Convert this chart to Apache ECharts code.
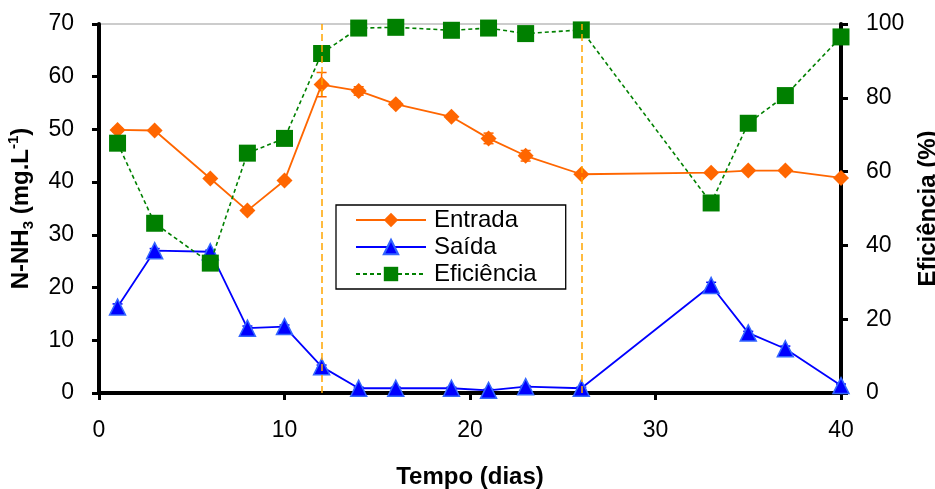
<!DOCTYPE html>
<html><head><meta charset="utf-8">
<script src="https://cdn.jsdelivr.net/npm/echarts@6/dist/echarts.min.js"></script>
<style>html,body{margin:0;padding:0;background:#fff}#c{width:935px;height:489px}</style>
</head><body><div id="c"></div>
<script>
const days = [1, 3, 6, 8, 10, 12, 14, 16, 19, 21, 23, 26, 33, 35, 37, 40];
const entrada = [49.9, 49.8, 40.7, 34.6, 40.3, 58.5, 57.3, 54.8, 52.4, 48.3, 45.0, 41.5, 41.8, 42.2, 42.2, 40.8];
const entradaErr = [0.4, 0.3, 0.3, 0.4, 0.4, 2.3, 0.8, 0.5, 0.4, 1.0, 1.0, 0.3, 0.4, 0.3, 0.4, 0.3];
const saida = [16.3, 27.0, 26.8, 12.3, 12.6, 5.0, 0.9, 0.9, 0.9, 0.5, 1.2, 0.9, 20.4, 11.4, 8.4, 1.4];
const saidaErr = [0.6, 0.4, 0.3, 0.4, 0.3, 0.3, 0.2, 0.2, 0.2, 0.2, 0.2, 0.2, 0.6, 0.3, 0.5, 0.3];
const eficiencia = [67.7, 46.0, 35.2, 65.0, 69.0, 92.0, 98.9, 99.1, 98.3, 98.9, 97.4, 98.4, 51.5, 73.1, 80.6, 96.5];
const phaseLines = [12, 26];
const leftTicks = {min: 0, max: 70, interval: 10};
const rightTicks = {min: 0, max: 100, interval: 20};
const xTicks = {min: 0, max: 40, interval: 10};

const chart = echarts.init(document.getElementById('c'));
const font = 'Liberation Sans, Arial, sans-serif';

function pairs(xs, ys) { return xs.map((x, i) => [x, ys[i]]); }
function errData(xs, ys, es) { return xs.map((x, i) => [x, ys[i] - es[i], ys[i] + es[i]]); }
function errSeries(data, color) {
  return {
    type: 'custom', yAxisIndex: 0, silent: true, z: 1,
    data: data,
    encode: {x: 0, y: [1, 2]},
    renderItem: function (params, api) {
      const lo = api.coord([api.value(0), api.value(1)]);
      const hi = api.coord([api.value(0), api.value(2)]);
      const w = 5;
      const st = {stroke: color, lineWidth: 1.5};
      return {type: 'group', children: [
        {type: 'line', shape: {x1: lo[0], y1: lo[1], x2: hi[0], y2: hi[1]}, style: st},
        {type: 'line', shape: {x1: lo[0] - w, y1: lo[1], x2: lo[0] + w, y2: lo[1]}, style: st},
        {type: 'line', shape: {x1: hi[0] - w, y1: hi[1], x2: hi[0] + w, y2: hi[1]}, style: st}
      ]};
    }
  };
}

chart.setOption({
  animation: false,
  textStyle: {fontFamily: font},
  grid: {left: 99, right: 94, top: 24, bottom: 96, show: true, borderColor: '#999', borderWidth: 1,
    containLabel: false, outerBoundsMode: 'none'},
  legend: {
    orient: 'vertical', left: 336, top: 205,
    data: ['Entrada', 'Saída', 'Eficiência'],
    itemWidth: 70, itemHeight: 18, itemGap: 3,
    padding: [3, 29, 3, 19],
    borderColor: '#000', borderWidth: 1.3, backgroundColor: '#fff',
    textStyle: {fontSize: 24, color: '#000', fontFamily: font, padding: [0, 0, 0, 3]}
  },
  xAxis: {
    type: 'value', min: xTicks.min, max: xTicks.max, interval: xTicks.interval,
    name: 'Tempo (dias)', nameLocation: 'middle', nameGap: 72,
    nameTextStyle: {fontSize: 24, fontWeight: 'bold', color: '#000'},
    axisLine: {lineStyle: {color: '#000', width: 4}},
    axisTick: {inside: false, length: 7, lineStyle: {width: 3, color: '#000'}},
    axisLabel: {fontSize: 23, color: '#000', margin: 26},
    splitLine: {show: false}
  },
  yAxis: [{
    type: 'value', min: leftTicks.min, max: leftTicks.max, interval: leftTicks.interval,
    name: 'N-NH{sub|3} (mg.L{sup|-1})', nameLocation: 'middle', nameGap: 63, nameRotate: 90,
    nameTextStyle: {fontSize: 24, fontWeight: 'bold', color: '#000', lineHeight: 30,
      rich: {
        sub: {fontSize: 15, fontWeight: 'bold', color: '#000', verticalAlign: 'bottom', lineHeight: 16, padding: [12, 0, 0, 0]},
        sup: {fontSize: 15, fontWeight: 'bold', color: '#000', verticalAlign: 'top', lineHeight: 16, padding: [0, 0, 12, 0]}
      }},
    axisLine: {show: true, lineStyle: {color: '#000', width: 4}},
    axisTick: {show: true, length: 7, lineStyle: {width: 3, color: '#000'}},
    axisLabel: {fontSize: 23, color: '#000', margin: 25},
    splitLine: {show: false}
  }, {
    type: 'value', min: rightTicks.min, max: rightTicks.max, interval: rightTicks.interval,
    position: 'right',
    name: 'Eficiência (%)', nameLocation: 'middle', nameGap: 75, nameRotate: 90,
    nameTextStyle: {fontSize: 24, fontWeight: 'bold', color: '#000'},
    axisLine: {show: true, lineStyle: {color: '#000', width: 4}},
    axisTick: {show: true, length: 7, lineStyle: {width: 3, color: '#000'}},
    axisLabel: {fontSize: 23, color: '#000', margin: 25},
    splitLine: {show: false}
  }],
  series: [
    errSeries(errData(days, entrada, entradaErr), '#FF6600'),
    errSeries(errData(days, saida, saidaErr), '#0000FF'),
    {
      name: 'Entrada', type: 'line', yAxisIndex: 0, z: 3,
      data: pairs(days, entrada),
      symbol: 'diamond', symbolSize: 16,
      lineStyle: {color: '#FF6600', width: 1.8},
      itemStyle: {color: '#FF6600'},
      markLine: {
        silent: true, symbol: 'none', label: {show: false},
        lineStyle: {color: '#FFA500', type: [7, 4], width: 1.5},
        data: phaseLines.map(v => ({xAxis: v}))
      }
    },
    {
      name: 'Saída', type: 'line', yAxisIndex: 0, z: 3,
      data: pairs(days, saida),
      symbol: 'triangle', symbolSize: 16,
      lineStyle: {color: '#0000FF', width: 1.8},
      itemStyle: {color: '#0000FF', borderColor: '#3366FF', borderWidth: 1.5}
    },
    {
      name: 'Eficiência', type: 'line', yAxisIndex: 1, z: 4,
      data: pairs(days, eficiencia),
      symbol: 'rect', symbolSize: 17,
      lineStyle: {color: '#008000', width: 1.6, type: [4, 3]},
      itemStyle: {color: '#008000'}
    }
  ]
});
</script>
</body></html>
